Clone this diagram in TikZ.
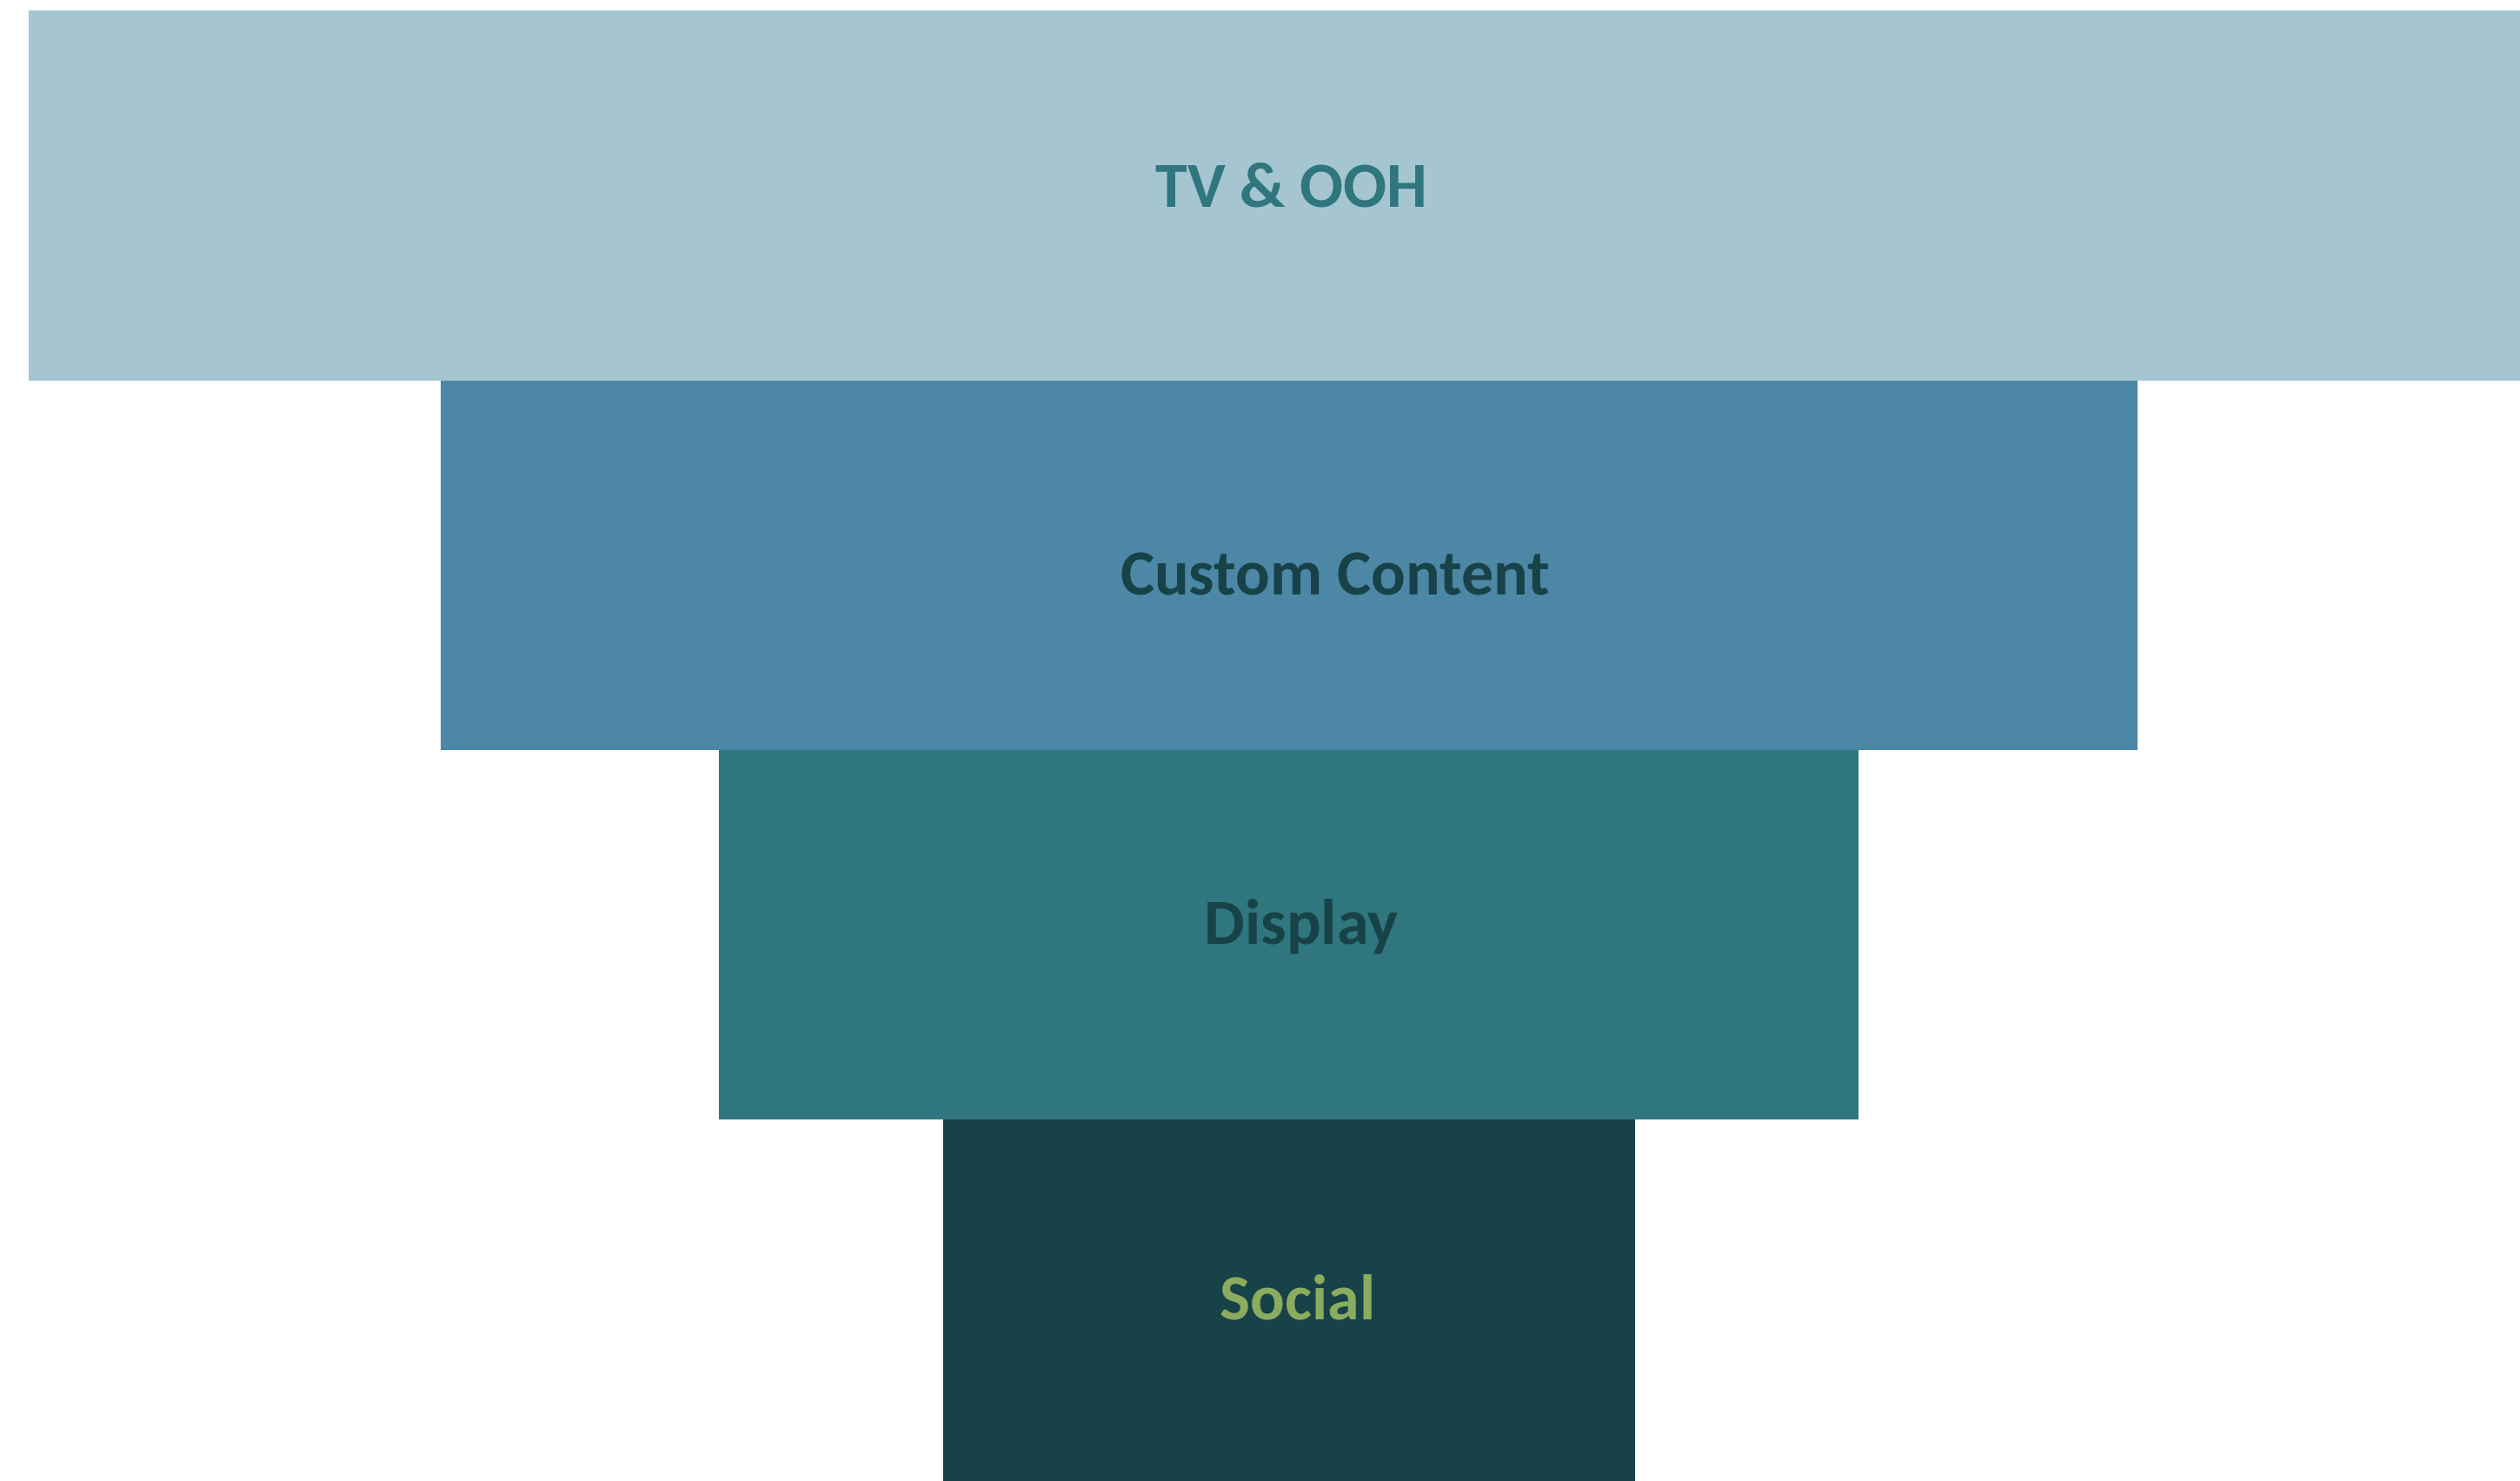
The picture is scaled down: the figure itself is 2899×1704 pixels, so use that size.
\documentclass[tikz,border=0pt]{standalone}
\usepackage{fontspec}
\setmainfont{Carlito}
\definecolor{c1}{HTML}{A5C6D1}
\definecolor{c2}{HTML}{4D87A6}
\definecolor{c3}{HTML}{2F767E}
\definecolor{c4}{HTML}{174248}
\definecolor{cgreen}{HTML}{8BAC5F}
\begin{document}
\begin{tikzpicture}[x=1pt,y=-1pt,
  lbl/.style={anchor=base,inner sep=0pt,font=\fontsize{74}{80}\selectfont\bfseries}]
\useasboundingbox (0,0) rectangle (2899,1704);
\fill[c1] (33,12) rectangle (2899,438);
\fill[c2] (507,438) rectangle (2459,863);
\fill[c3] (827,863) rectangle (2138,1288);
\fill[c4] (1085,1288) rectangle (1881,1704);
\node[lbl,text=c3] (tv) at (1486,239) {TV \& OOH};
\node[lbl,text=c4] (cc) at (1536,684) {Custom Content};
\node[lbl,text=c4] (disp) at (1497,1086) {Display};
\node[lbl,text=cgreen] (soc) at (1493,1518) {Social};
\end{tikzpicture}
\end{document}
